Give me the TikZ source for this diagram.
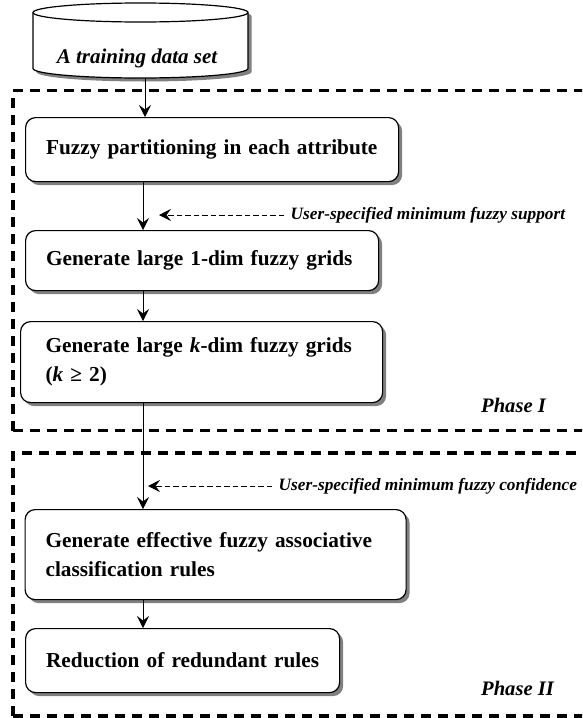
\documentclass[tikz,border=0pt]{standalone}
\usepackage{fontspec}
\setmainfont{Liberation Serif}
\usetikzlibrary{arrows.meta,shadows,positioning}

\begin{document}
\begin{tikzpicture}
[x=1pt, y=-1pt,
 stepbox/.style={rectangle, draw, fill=white, rounded corners=10pt, line width=1.2pt,
   drop shadow={shadow xshift=3.5pt, shadow yshift=-3.5pt, fill=black!50, opacity=1},
   anchor=north west, inner xsep=20.5pt, inner ysep=0pt, align=left,
   font=\bfseries\fontsize{21.3}{29}\selectfont},
 phasebox/.style={line width=3.3pt, dash pattern=on 10pt off 7pt},
 note/.style={anchor=west, inner xsep=6.5pt, inner ysep=0pt,
   font=\bfseries\itshape\fontsize{17.3}{20}\selectfont},
 phase/.style={anchor=base west, inner sep=0pt,
   font=\bfseries\itshape\fontsize{20.6}{24}\selectfont},
 flow/.style={-{Stealth[length=12pt, width=12pt, inset=4.5pt]}, line width=1pt},
 hint/.style={flow, dash pattern=on 5.5pt off 3pt}]
  \useasboundingbox (0,0) rectangle (582,718);
  \clip (0,0) rectangle (582,718);

  \draw[phasebox] (13,430.5) -- (13,90.5) -- (600,90.5);
  \draw[phasebox] (13,430.5) -- (600,430.5);
  \draw[phasebox] (13,716) -- (13,453) -- (600,453);
  \draw[phasebox] (13,716) -- (600,716);

  \path[draw, fill=white, line width=1.2pt,
    drop shadow={shadow xshift=3.5pt, shadow yshift=-3.5pt, fill=black!50, opacity=1}]
    (33,12.5) -- (33,68.5) arc[start angle=180, end angle=360, x radius=107.5pt, y radius=9.5pt]
    -- (248,12.5) arc[start angle=0, end angle=180, x radius=107.5pt, y radius=9.5pt] -- cycle;
  \draw[line width=1.2pt] (33,12.5) arc[start angle=180, end angle=360, x radius=107.5pt, y radius=9.5pt];
  \node[font=\bfseries\itshape\fontsize{21}{24}\selectfont] (data) at (137,58) {A training data set};
  \coordinate (dbot) at (145,78);

  \node[stepbox, text width=332pt, minimum height=64pt] (fp) at (25,117)
    {Fuzzy partitioning in each attribute};
  \node[stepbox, text width=312pt, minimum height=60pt] (g1) at (25,230)
    {Generate large 1-dim fuzzy grids};
  \node[stepbox, text width=312pt, minimum height=81pt, inner xsep=25pt] (gk) at (20,321)
    {\makebox[312pt][s]{Generate large \textit{k}-dim fuzzy grids}\\(\textit{k} ≥ 2)};
  \node[stepbox, text width=340pt, minimum height=90pt] (ge) at (24.5,509)
    {Generate effective fuzzy associative\\classification rules};
  \node[stepbox, text width=273pt, minimum height=64pt] (rr) at (25,628)
    {Reduction of redundant rules};

  \node[phase] (ph1) at (481,412) {Phase I};
  \node[phase] (ph2) at (481,695) {Phase II};

  \node[note] (supp) at (284,215) {User-specified minimum fuzzy support};
  \coordinate (supptip) at (159,215);
  \node[note] (conf) at (272,486) {User-specified minimum fuzzy confidence};
  \coordinate (conftip) at (148,486);

  \coordinate (ax) at (143,0);
  \draw[flow] (dbot) -- (dbot |- fp.north);
  \draw[flow] (fp.south -| ax) -- (g1.north -| ax);
  \draw[flow] (g1.south -| ax) -- (gk.north -| ax);
  \draw[flow] (gk.south -| ax) -- (ge.north -| ax);
  \draw[flow] (ge.south -| ax) -- (rr.north -| ax);
  \draw[hint] (supp.west) -- (supptip);
  \draw[hint] (conf.west) -- (conftip);
\end{tikzpicture}
\end{document}
